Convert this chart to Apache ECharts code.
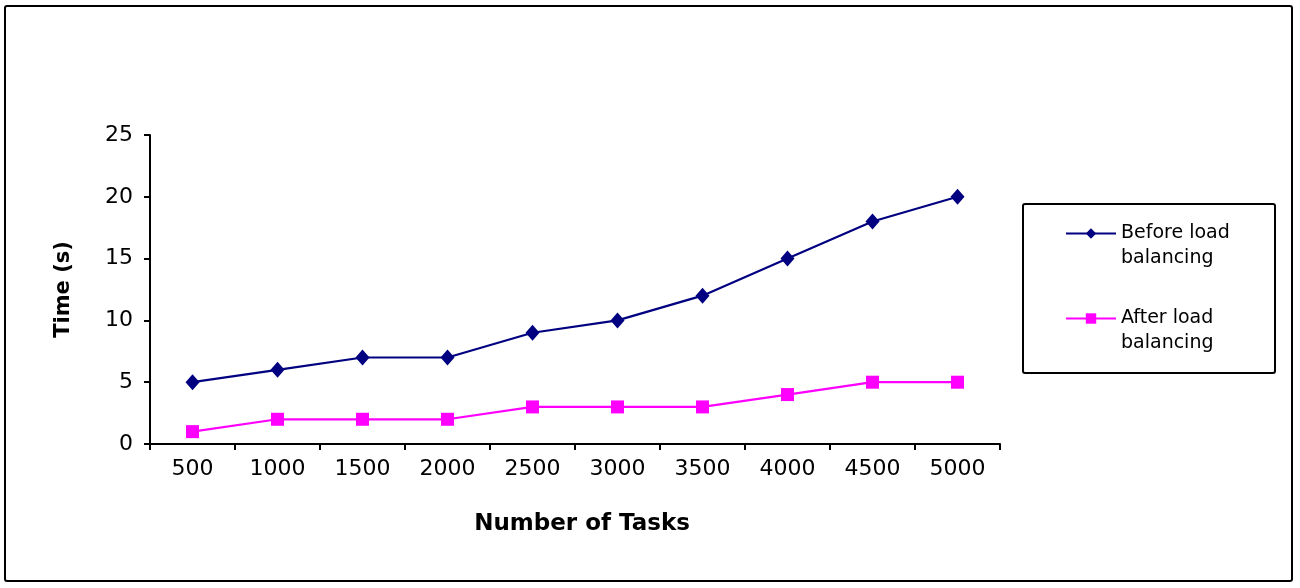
<!DOCTYPE html>
<html><head><meta charset="utf-8">
<script src="https://cdn.jsdelivr.net/npm/echarts@6/dist/echarts.min.js"></script>
<style>html,body{margin:0;padding:0;background:#fff}#c{width:1300px;height:588px}</style>
</head><body><div id="c"></div>
<script>
const categories = ['500','1000','1500','2000','2500','3000','3500','4000','4500','5000'];
const beforeValues = [5,6,7,7,9,10,12,15,18,20];
const afterValues = [1,2,2,2,3,3,3,4,5,5];
const seriesNames = ['Before load\nbalancing','After load\nbalancing'];
const yTicks = {min:0, max:25, interval:5};

const chart = echarts.init(document.getElementById('c'), null, {renderer:'canvas'});
const font = 'DejaVu Sans, sans-serif';
chart.setOption({
  animation:false,
  backgroundColor:'#fff',
  grid:{left:150, top:135, width:850, height:309},
  xAxis:{type:'category', data:categories, boundaryGap:true,
    name:'Number of Tasks', nameLocation:'middle', nameGap:69,
    nameTextStyle:{fontFamily:font, fontSize:23, fontWeight:'bold', color:'#000', padding:[0,0,0,14]},
    axisLine:{lineStyle:{color:'#000', width:2}},
    axisTick:{show:true, alignWithLabel:false, length:6, lineStyle:{color:'#000', width:2}},
    axisLabel:{fontFamily:font, fontSize:22, color:'#000', margin:14},
    splitLine:{show:false}},
  yAxis:{type:'value', min:yTicks.min, max:yTicks.max, interval:yTicks.interval,
    name:'Time (s)', nameLocation:'middle', nameGap:76, nameRotate:90,
    nameTextStyle:{fontFamily:font, fontSize:21, fontWeight:'bold', color:'#000'},
    axisLine:{show:true, lineStyle:{color:'#000', width:2}},
    axisTick:{show:true, length:6, lineStyle:{color:'#000', width:2}},
    axisLabel:{fontFamily:font, fontSize:22, color:'#000', margin:17},
    splitLine:{show:false}},
  legend:{orient:'vertical', left:1060, top:191, itemWidth:50, itemHeight:13, itemGap:10,
    textStyle:{fontFamily:font, fontSize:19, color:'#000', lineHeight:25},
    formatter: name => '\u00a0\n' + name,
    data:seriesNames},
  graphic:[
    {type:'rect', x:5, y:6, shape:{x:0, y:0, width:1287, height:575, r:2}, style:{fill:'none', stroke:'#000', lineWidth:2}, silent:true},
    {type:'rect', x:1023, y:204, shape:{x:0, y:0, width:252, height:169, r:2}, style:{fill:'none', stroke:'#000', lineWidth:2}, silent:true}
  ],
  series:[
    {name:seriesNames[0], type:'line', data:beforeValues, symbol:'diamond', symbolSize:[14,16],
      lineStyle:{color:'#000080', width:2.2}, itemStyle:{color:'#000080'}},
    {name:seriesNames[1], type:'line', data:afterValues, symbol:'rect', symbolSize:13,
      lineStyle:{color:'#ff00ff', width:2.2}, itemStyle:{color:'#ff00ff'}}
  ]
});
</script></body></html>
